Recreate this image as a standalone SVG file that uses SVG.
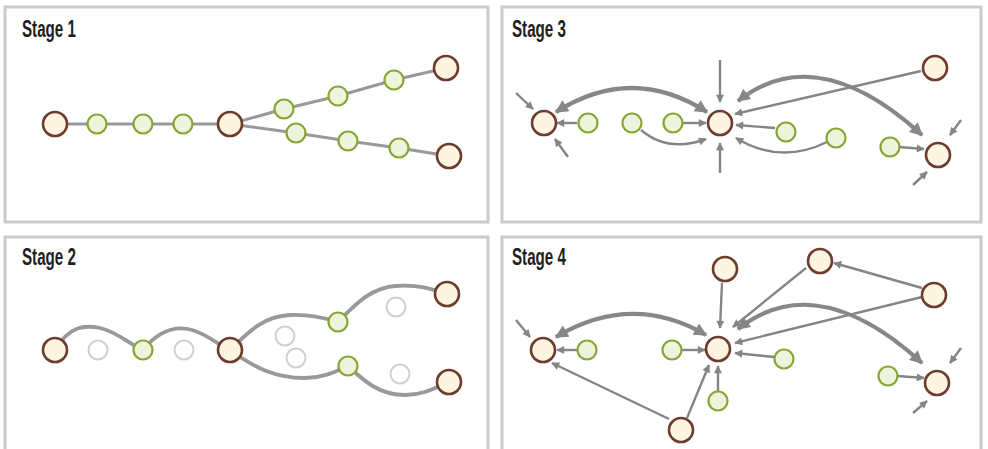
<svg xmlns="http://www.w3.org/2000/svg" width="988" height="449" viewBox="0 0 988 449">
  <defs>
    <style>
      .panel { fill: #ffffff; stroke: #cbcbcb; stroke-width: 3; }
      .title { font-family: "Liberation Sans", Arial, sans-serif; font-weight: bold; font-size: 23px; fill: #1e1e1e; }
      .hub { fill: #fdf5e2; stroke: #6e3b2f; stroke-width: 2.6; }
      .step { fill: #eef3dc; stroke: #86a636; stroke-width: 2.2; }
      .ghost { fill: #ffffff; stroke: #cfcfcf; stroke-width: 2; }
      .path { fill: none; stroke: #999999; stroke-width: 3; }
      .wave { fill: none; stroke: #999999; stroke-width: 3.8; }
      .link { fill: none; stroke: #858585; stroke-width: 2.4; marker-end: url(#tip); }
      .flow { fill: none; stroke: #878787; stroke-width: 4.2; marker-start: url(#bigtip); marker-end: url(#bigtip); }
    </style>
    <marker id="tip" viewBox="0 0 10 10" refX="9" refY="5" markerUnits="userSpaceOnUse" markerWidth="9" markerHeight="8" orient="auto">
      <path d="M0,0 L10,5 L0,10 z" fill="#858585"/>
    </marker>
    <marker id="bigtip" viewBox="0 0 10 10" refX="9" refY="5" markerUnits="userSpaceOnUse" markerWidth="15" markerHeight="13" orient="auto-start-reverse">
      <path d="M0,0 L10,5 L0,10 z" fill="#878787"/>
    </marker>
  </defs>

  <rect width="988" height="449" fill="#ffffff"/>

  <!-- panel frames -->
  <rect class="panel" x="5" y="7" width="483" height="215"/>
  <rect class="panel" x="502" y="7" width="479" height="215"/>
  <rect class="panel" x="5" y="237" width="483" height="222"/>
  <rect class="panel" x="502" y="237" width="479" height="222"/>

  <!-- titles (condensed bold) -->
  <text class="title" transform="translate(22,37) scale(0.66,1)">Stage 1</text>
  <text class="title" transform="translate(512,37) scale(0.66,1)">Stage 3</text>
  <text class="title" transform="translate(22,265) scale(0.66,1)">Stage 2</text>
  <text class="title" transform="translate(512,265) scale(0.66,1)">Stage 4</text>

  <!-- connectors -->
  <g id="connectors">
    <!-- stage 1: straight chain with a fork -->
    <polyline class="path" points="55,124 230,124 284,109 338,96 394,80 446,68"/>
    <polyline class="path" points="230,124 296,133 348,141 399,148 449,156"/>

    <!-- stage 2: wavy chain -->
    <path class="wave" d="M55,350 C70,325 85,325 100,328 C118,332 130,345 143,350"/>
    <path class="wave" d="M143,350 C155,335 170,326 188,329 C205,332 218,345 230,350"/>
    <path class="wave" d="M230,350 C250,330 265,316 290,315 C310,314 325,318 338,322"/>
    <path class="wave" d="M338,322 C355,305 370,288 395,286 C420,284 435,290 447,294"/>
    <path class="wave" d="M230,350 C255,368 275,378 305,378 C325,378 338,370 348,366"/>
    <path class="wave" d="M348,366 C365,382 380,395 405,395 C425,395 438,386 449,382"/>

    <!-- stage 3 -->
    <path class="flow" d="M556,112 Q632,64 707,112"/>
    <path class="flow" d="M738,101 C780,68 840,60 922,135"/>
    <path class="link" d="M577,123 L557,123"/>
    <path class="link" d="M683,123 L706,123"/>
    <path class="link" d="M641,130 Q668,153 706,139"/>
    <path class="link" d="M720,60 L720,102"/>
    <path class="link" d="M720,173 L720,143"/>
    <path class="link" d="M775,128 L736,125"/>
    <path class="link" d="M827,142 Q780,165 736,138"/>
    <path class="link" d="M921,71 L735,114"/>
    <path class="link" d="M516,93 L533,109"/>
    <path class="link" d="M568,157 L555,139"/>
    <path class="link" d="M899,147 L924,149"/>
    <path class="link" d="M961,120 L950,135"/>
    <path class="link" d="M913,185 L927,172"/>

    <!-- stage 4 -->
    <path class="flow" d="M556,337 Q632,292 706,335"/>
    <path class="flow" d="M738,329 C780,296 840,288 922,363"/>
    <path class="link" d="M577,350 L557,350"/>
    <path class="link" d="M682,350 L705,350"/>
    <path class="link" d="M722,283 L720,328"/>
    <path class="link" d="M806,268 L733,327"/>
    <path class="link" d="M922,288 L834,263"/>
    <path class="link" d="M922,297 L735,343"/>
    <path class="link" d="M774,357 L735,353"/>
    <path class="link" d="M718,392 L718,366"/>
    <path class="link" d="M687,418 L709,365"/>
    <path class="link" d="M669,419 L552,363"/>
    <path class="link" d="M516,320 L530,337"/>
    <path class="link" d="M898,376 L924,378"/>
    <path class="link" d="M961,348 L950,363"/>
    <path class="link" d="M913,413 L927,401"/>
  </g>

  <!-- stage 1 nodes -->
  <g id="s1-a"><circle class="hub" cx="55" cy="124" r="12"/></g>
  <g id="s1-b"><circle class="step" cx="97" cy="124" r="9.5"/></g>
  <g id="s1-c"><circle class="step" cx="143" cy="124" r="9.5"/></g>
  <g id="s1-d"><circle class="step" cx="183" cy="124" r="9.5"/></g>
  <g id="s1-e"><circle class="hub" cx="230" cy="124" r="12"/></g>
  <g id="s1-f"><circle class="step" cx="284" cy="109" r="9.5"/></g>
  <g id="s1-g"><circle class="step" cx="338" cy="96" r="9.5"/></g>
  <g id="s1-h"><circle class="step" cx="394" cy="80" r="9.5"/></g>
  <g id="s1-i"><circle class="hub" cx="446" cy="68" r="12"/></g>
  <g id="s1-j"><circle class="step" cx="296" cy="133" r="9.5"/></g>
  <g id="s1-k"><circle class="step" cx="348" cy="141" r="9.5"/></g>
  <g id="s1-l"><circle class="step" cx="399" cy="148" r="9.5"/></g>
  <g id="s1-m"><circle class="hub" cx="449" cy="156" r="12"/></g>

  <!-- stage 2 nodes -->
  <g id="s2-a"><circle class="hub" cx="55" cy="350" r="12"/></g>
  <g id="s2-b"><circle class="ghost" cx="98" cy="350" r="9.5"/></g>
  <g id="s2-c"><circle class="step" cx="143" cy="350" r="9.5"/></g>
  <g id="s2-d"><circle class="ghost" cx="184" cy="350" r="9.5"/></g>
  <g id="s2-e"><circle class="hub" cx="230" cy="350" r="12"/></g>
  <g id="s2-f"><circle class="ghost" cx="285" cy="336" r="9.5"/></g>
  <g id="s2-g"><circle class="ghost" cx="296" cy="358" r="9.5"/></g>
  <g id="s2-h"><circle class="step" cx="338" cy="322" r="9.5"/></g>
  <g id="s2-i"><circle class="step" cx="348" cy="366" r="9.5"/></g>
  <g id="s2-j"><circle class="ghost" cx="396" cy="307" r="9.5"/></g>
  <g id="s2-k"><circle class="ghost" cx="400" cy="374" r="9.5"/></g>
  <g id="s2-l"><circle class="hub" cx="447" cy="294" r="12"/></g>
  <g id="s2-m"><circle class="hub" cx="449" cy="382" r="12"/></g>

  <!-- stage 3 nodes -->
  <g id="s3-a"><circle class="hub" cx="544" cy="123" r="12"/></g>
  <g id="s3-b"><circle class="step" cx="588" cy="123" r="9.5"/></g>
  <g id="s3-c"><circle class="step" cx="632" cy="123" r="9.5"/></g>
  <g id="s3-d"><circle class="step" cx="673" cy="123" r="9.5"/></g>
  <g id="s3-e"><circle class="hub" cx="720" cy="123" r="12"/></g>
  <g id="s3-f"><circle class="step" cx="786" cy="132" r="9.5"/></g>
  <g id="s3-g"><circle class="step" cx="836" cy="138" r="9.5"/></g>
  <g id="s3-h"><circle class="hub" cx="935" cy="68" r="12"/></g>
  <g id="s3-i"><circle class="step" cx="890" cy="147" r="9.5"/></g>
  <g id="s3-j"><circle class="hub" cx="938" cy="155" r="12"/></g>

  <!-- stage 4 nodes -->
  <g id="s4-a"><circle class="hub" cx="543" cy="350" r="12"/></g>
  <g id="s4-b"><circle class="step" cx="587" cy="350" r="9.5"/></g>
  <g id="s4-c"><circle class="step" cx="672" cy="350" r="9.5"/></g>
  <g id="s4-d"><circle class="hub" cx="718" cy="349" r="12"/></g>
  <g id="s4-e"><circle class="hub" cx="725" cy="269" r="12"/></g>
  <g id="s4-f"><circle class="hub" cx="820" cy="261" r="12"/></g>
  <g id="s4-g"><circle class="hub" cx="934" cy="295" r="12"/></g>
  <g id="s4-h"><circle class="step" cx="784" cy="359" r="9.5"/></g>
  <g id="s4-i"><circle class="step" cx="718" cy="401" r="9.5"/></g>
  <g id="s4-j"><circle class="hub" cx="681" cy="430" r="12"/></g>
  <g id="s4-k"><circle class="step" cx="888" cy="376" r="9.5"/></g>
  <g id="s4-l"><circle class="hub" cx="937" cy="383" r="12"/></g>
</svg>
